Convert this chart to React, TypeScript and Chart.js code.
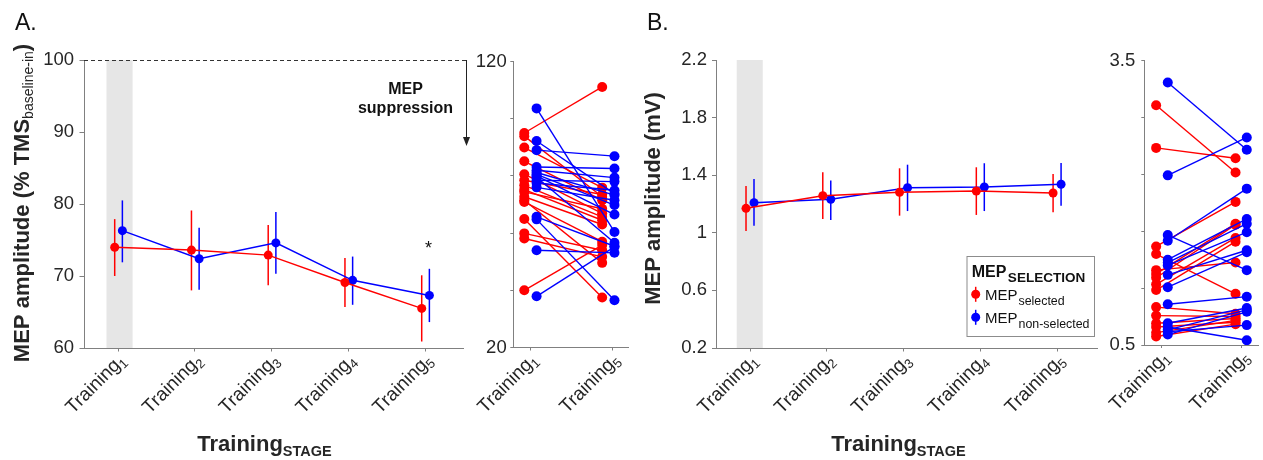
import React, { useEffect, useRef } from 'react';
import { Chart, registerables } from 'chart.js';
Chart.register(...registerables);

const W = 1263;
const H = 460;
const FONT = "'Liberation Sans', Arial, Helvetica, sans-serif";
const RED = '#ff0000';
const BLUE = '#0000ff';
const AXIS = '#808080';
const TXT = '#262626';

// ---------- shared categories ----------
const STAGES = [1, 2, 3, 4, 5];
const STAGE_SUBS = ['1', '2', '3', '4', '5'];
const PAIR_TICKS = [0, 1];
const PAIR_SUBS = ['1', '5'];

// ---------- Panel A : MEP amplitude (% TMS baseline-in) ----------
const A_Y_TICKS = [60, 70, 80, 90, 100];
const A_Y_LABELS = ['60', '70', '80', '90', '100'];
const A_RED_MEAN = [74.0, 73.6, 72.9, 69.1, 65.5];
const A_RED_LO = [70.0, 68.0, 68.7, 65.7, 60.9];
const A_RED_HI = [77.9, 79.1, 77.1, 72.5, 70.1];
const A_BLUE_MEAN = [76.3, 72.4, 74.6, 69.4, 67.3];
const A_BLUE_LO = [71.9, 68.1, 70.3, 66.0, 63.6];
const A_BLUE_HI = [80.5, 76.7, 78.9, 72.7, 71.0];
const A_REF_LEVEL = 100;
const A_ASTERISK_LEVEL = 73.0;

// Panel A individual subjects (Training1 -> Training5)
const A_SP_Y_TICKS = [20, 40, 60, 80, 100, 120];
const A_SP_Y_LABELS = ['20', '', '', '', '', '120'];
const A_SP_RED_T1 = [95.0, 93.9, 89.9, 85.1, 80.6, 78.5, 76.7, 75.2, 74.4, 72.7, 71.5, 70.9, 64.9, 59.9, 58.1, 40.0];
const A_SP_RED_T5 = [111.1, 72.7, 75.9, 71.5, 66.9, 73.5, 65.7, 64.5, 68.5, 63.0, 49.6, 57.0, 37.5, 54.0, 51.7, 55.8];
const A_SP_BLUE_T1 = [103.6, 92.2, 89.0, 83.1, 82.0, 81.2, 80.5, 80.0, 79.5, 78.5, 77.5, 76.0, 65.7, 64.8, 54.0, 37.9];
const A_SP_BLUE_T5 = [60.4, 73.8, 86.9, 82.6, 79.4, 73.3, 69.8, 66.5, 56.6, 78.0, 75.0, 71.5, 55.4, 36.5, 53.1, 55.2];

// ---------- Panel B : MEP amplitude (mV) ----------
const B_Y_TICKS = [0.2, 0.6, 1, 1.4, 1.8, 2.2];
const B_Y_LABELS = ['0.2', '0.6', '1', '1.4', '1.8', '2.2'];
const B_RED_MEAN = [1.170, 1.258, 1.281, 1.290, 1.276];
const B_RED_LO = [1.013, 1.096, 1.119, 1.124, 1.142];
const B_RED_HI = [1.325, 1.420, 1.448, 1.455, 1.408];
const B_BLUE_MEAN = [1.209, 1.233, 1.313, 1.318, 1.337];
const B_BLUE_LO = [1.049, 1.089, 1.151, 1.151, 1.188];
const B_BLUE_HI = [1.374, 1.364, 1.473, 1.483, 1.485];

const B_SP_Y_TICKS = [0.5, 1.1, 1.7, 2.3, 2.9, 3.5];
const B_SP_Y_LABELS = ['0.5', '', '', '', '', '3.5'];
const B_SP_RED_T1 = [3.03, 2.58, 1.54, 1.46, 1.29, 1.25, 1.21, 1.14, 1.08, 0.90, 0.81, 0.73, 0.69, 0.63, 0.59];
const B_SP_RED_T5 = [2.32, 2.47, 2.01, 1.04, 1.37, 1.78, 1.77, 1.63, 1.59, 0.83, 0.80, 0.78, 0.74, 0.76, 0.72];
const B_SP_BLUE_T1 = [3.27, 2.29, 1.66, 1.60, 1.40, 1.37, 1.34, 1.24, 1.11, 0.93, 0.73, 0.69, 0.66, 0.64, 0.61];
const B_SP_BLUE_T5 = [2.56, 2.69, 1.29, 2.15, 1.83, 1.78, 1.69, 1.50, 1.48, 1.01, 0.89, 0.55, 0.87, 0.71, 0.85];

// ---------- text helpers ----------
type Part = { t: string; size: number; bold?: boolean; dy?: number; dx?: number };
const fontOf = (p: Part) => `${p.bold ? 'bold ' : ''}${p.size}px ${FONT}`;
function drawRich(ctx: CanvasRenderingContext2D, parts: Part[], x: number, y: number, align: 'left' | 'center' | 'right', color: string) {
  let w = 0;
  for (const p of parts) {
    ctx.font = fontOf(p);
    w += ctx.measureText(p.t).width + (p.dx || 0);
  }
  let cx = align === 'left' ? x : align === 'center' ? x - w / 2 : x - w;
  ctx.fillStyle = color;
  ctx.textAlign = 'left';
  ctx.textBaseline = 'alphabetic';
  for (const p of parts) {
    ctx.font = fontOf(p);
    cx += p.dx || 0;
    ctx.fillText(p.t, cx, y + (p.dy || 0));
    cx += ctx.measureText(p.t).width;
  }
}

function drawXLabels(chart: any, ticks: number[], subs: string[]) {
  const ctx: CanvasRenderingContext2D = chart.ctx;
  const xs = chart.scales.x;
  const bottom = chart.chartArea.bottom;
  ticks.forEach((v, i) => {
    const px = xs.getPixelForValue(v);
    ctx.save();
    ctx.translate(px + 4, bottom + 9);
    ctx.rotate(-Math.PI / 4);
    drawRich(ctx, [{ t: 'Training', size: 19 }, { t: subs[i], size: 13, dy: 4 }], 0, 6, 'right', TXT);
    ctx.restore();
  });
}

// ---------- dataset builders ----------
function meanSeries(means: number[], offset: number, color: string) {
  return {
    data: means.map((v, i) => ({ x: STAGES[i] + offset, y: v })),
    showLine: true,
    borderColor: color,
    borderWidth: 1.5,
    pointRadius: 4.5,
    pointBackgroundColor: color,
    pointBorderWidth: 0,
  };
}
function errorBars(lo: number[], hi: number[], offset: number, color: string) {
  return lo.map((l, i) => ({
    data: [{ x: STAGES[i] + offset, y: l }, { x: STAGES[i] + offset, y: hi[i] }],
    showLine: true,
    borderColor: color,
    borderWidth: 1.5,
    pointRadius: 0,
  }));
}
function pairs(t1: number[], t5: number[], x1: number, x5: number, color: string) {
  return t1.map((v, i) => ({
    data: [{ x: x1, y: v }, { x: x5, y: t5[i] }],
    showLine: true,
    borderColor: color,
    borderWidth: 1.4,
    pointRadius: 5,
    pointBackgroundColor: color,
    pointBorderWidth: 0,
  }));
}

type Panel = {
  area: { l: number; r: number; t: number; b: number };
  xMin: number; xMax: number; xTicks: number[]; xSubs: string[];
  yMin: number; yMax: number; yTicks: number[]; yLabels: string[];
  yTickLen: number; yPad: number; xTickLen: number;
  datasets: any[];
  band?: [number, number];
  extra?: (chart: any) => void;
};

const YW = 40;
const XH = 10;

function makeChart(canvas: HTMLCanvasElement, p: Panel) {
  const a = p.area;
  return new Chart(canvas, {
    type: 'scatter',
    data: { datasets: p.datasets },
    options: {
      animation: false,
      responsive: false,
      events: [],
      layout: { padding: { left: a.l - YW, right: W - a.r, top: a.t, bottom: H - a.b - XH } },
      plugins: { legend: { display: false }, tooltip: { enabled: false } },
      scales: {
        x: {
          type: 'linear',
          min: p.xMin,
          max: p.xMax,
          afterFit: (s: any) => { s.height = XH; },
          afterBuildTicks: (s: any) => { s.ticks = p.xTicks.map((v) => ({ value: v })); },
          ticks: { display: false },
          grid: { drawOnChartArea: false, drawTicks: true, tickLength: p.xTickLen, color: AXIS, lineWidth: 1 },
          border: { display: true, color: AXIS, width: 1 },
        },
        y: {
          type: 'linear',
          min: p.yMin,
          max: p.yMax,
          afterFit: (s: any) => { s.width = YW; },
          afterBuildTicks: (s: any) => { s.ticks = p.yTicks.map((v) => ({ value: v })); },
          ticks: {
            autoSkip: false,
            padding: p.yPad,
            color: TXT,
            font: { family: FONT, size: 18.5 },
            callback: (_v: any, i: number) => p.yLabels[i],
          },
          grid: { drawOnChartArea: false, drawTicks: true, tickLength: p.yTickLen, color: AXIS, lineWidth: 1 },
          border: { display: true, color: AXIS, width: 1 },
        },
      },
    } as any,
    plugins: [
      {
        id: 'custom',
        beforeDatasetsDraw(chart: any) {
          if (!p.band) return;
          const { ctx, chartArea: ca, scales } = chart;
          const x0 = scales.x.getPixelForValue(p.band[0]);
          const x1 = scales.x.getPixelForValue(p.band[1]);
          ctx.save();
          ctx.fillStyle = '#e6e6e6';
          ctx.fillRect(x0, ca.top, x1 - x0, ca.bottom - ca.top);
          ctx.restore();
        },
        afterDraw(chart: any) {
          drawXLabels(chart, p.xTicks, p.xSubs);
          if (p.extra) p.extra(chart);
        },
      },
    ],
  });
}

// ---------- panels ----------
function panelAMain(): Panel {
  return {
    area: { l: 84, r: 463, t: 60, b: 348 },
    xMin: 0.557, xMax: 5.495, xTicks: STAGES, xSubs: STAGE_SUBS,
    yMin: 60, yMax: 100, yTicks: A_Y_TICKS, yLabels: A_Y_LABELS,
    yTickLen: 4.5, yPad: 5.5, xTickLen: 3.5,
    band: [0.85, 1.19],
    datasets: [
      meanSeries(A_RED_MEAN, -0.043, RED),
      meanSeries(A_BLUE_MEAN, 0.057, BLUE),
      ...errorBars(A_RED_LO, A_RED_HI, -0.043, RED),
      ...errorBars(A_BLUE_LO, A_BLUE_HI, 0.057, BLUE),
    ],
    extra: (chart: any) => {
      const { ctx, chartArea: ca, scales } = chart;
      const yRef = scales.y.getPixelForValue(A_REF_LEVEL);
      ctx.save();
      ctx.strokeStyle = '#333';
      ctx.lineWidth = 1;
      ctx.setLineDash([4, 3]);
      ctx.beginPath();
      ctx.moveTo(ca.left, yRef + 0.5);
      ctx.lineTo(ca.right + 4, yRef + 0.5);
      ctx.stroke();
      ctx.restore();
      const ax = ca.right + 3.5;
      ctx.save();
      ctx.strokeStyle = '#222';
      ctx.fillStyle = '#222';
      ctx.lineWidth = 1;
      ctx.beginPath();
      ctx.moveTo(ax, yRef);
      ctx.lineTo(ax, yRef + 78);
      ctx.stroke();
      ctx.beginPath();
      ctx.moveTo(ax - 3.5, yRef + 77);
      ctx.lineTo(ax + 3.5, yRef + 77);
      ctx.lineTo(ax, yRef + 86);
      ctx.closePath();
      ctx.fill();
      ctx.restore();
      drawRich(ctx, [{ t: 'MEP', size: 16, bold: true }], ca.right - 57.5, yRef + 34, 'center', '#111');
      drawRich(ctx, [{ t: 'suppression', size: 16, bold: true }], ca.right - 57.5, yRef + 53, 'center', '#111');
      drawRich(ctx, [{ t: '*', size: 18 }], scales.x.getPixelForValue(5.045), scales.y.getPixelForValue(A_ASTERISK_LEVEL), 'center', '#111');
      ctx.save();
      ctx.translate(29.3, 203);
      ctx.rotate(-Math.PI / 2);
      drawRich(ctx, [
        { t: 'MEP amplitude (% TMS', size: 22, bold: true },
        { t: 'baseline-in', size: 14, dy: 4 },
        { t: ')', size: 22, bold: true },
      ], 0, 0, 'center', TXT);
      ctx.restore();
      drawRich(ctx, [{ t: 'Training', size: 22, bold: true }, { t: 'STAGE', size: 14.5, bold: true, dy: 4.5 }], (ca.left + ca.right) / 2 - 9, 451, 'center', TXT);
      drawRich(ctx, [{ t: 'A.', size: 23 }], 15, 30, 'left', '#111');
    },
  };
}

function panelASpag(): Panel {
  return {
    area: { l: 513.3, r: 628, t: 61.5, b: 347.5 },
    xMin: -0.204, xMax: 1.195, xTicks: PAIR_TICKS, xSubs: PAIR_SUBS,
    yMin: 20, yMax: 120, yTicks: A_SP_Y_TICKS, yLabels: A_SP_Y_LABELS,
    yTickLen: 3, yPad: 3.6, xTickLen: 3,
    datasets: [
      ...pairs(A_SP_BLUE_T1, A_SP_BLUE_T5, 0.08, 1.03, BLUE),
      ...pairs(A_SP_RED_T1, A_SP_RED_T5, -0.07, 0.88, RED),
    ],
  };
}

function panelBMain(): Panel {
  return {
    area: { l: 716, r: 1097, t: 60, b: 348 },
    xMin: 0.557, xMax: 5.52, xTicks: STAGES, xSubs: STAGE_SUBS,
    yMin: 0.2, yMax: 2.2, yTicks: B_Y_TICKS, yLabels: B_Y_LABELS,
    yTickLen: 4, yPad: 5, xTickLen: 3.5,
    band: [0.827, 1.166],
    datasets: [
      meanSeries(B_RED_MEAN, -0.052, RED),
      meanSeries(B_BLUE_MEAN, 0.052, BLUE),
      ...errorBars(B_RED_LO, B_RED_HI, -0.052, RED),
      ...errorBars(B_BLUE_LO, B_BLUE_HI, 0.052, BLUE),
    ],
    extra: (chart: any) => {
      const { ctx, chartArea: ca } = chart;
      ctx.save();
      ctx.translate(659.5, 198.5);
      ctx.rotate(-Math.PI / 2);
      drawRich(ctx, [{ t: 'MEP amplitude (mV)', size: 22, bold: true }], 0, 0, 'center', TXT);
      ctx.restore();
      drawRich(ctx, [{ t: 'Training', size: 22, bold: true }, { t: 'STAGE', size: 14.5, bold: true, dy: 4.5 }], (ca.left + ca.right) / 2 - 8, 451, 'center', TXT);
      drawRich(ctx, [{ t: 'B.', size: 23 }], 647, 30, 'left', '#111');
      // legend
      const lx = ca.right - 130.5;
      const ly = ca.bottom - 92;
      ctx.save();
      ctx.fillStyle = '#fff';
      ctx.fillRect(lx, ly, 127.5, 80);
      ctx.strokeStyle = '#8c8c8c';
      ctx.lineWidth = 1;
      ctx.strokeRect(lx + 0.5, ly + 0.5, 127.5, 80);
      ctx.restore();
      drawRich(ctx, [{ t: 'MEP', size: 16, bold: true }, { t: 'SELECTION', size: 13.5, bold: true, dy: 5, dx: 1.5 }], lx + 5.2, ly + 20.7, 'left', '#111');
      const items: [string, string, number][] = [[RED, 'selected', 38.3], [BLUE, 'non-selected', 61.3]];
      for (const [col, sub, yy] of items) {
        const mx = lx + 9.2;
        const my = ly + yy;
        ctx.save();
        ctx.strokeStyle = col;
        ctx.fillStyle = col;
        ctx.lineWidth = 1.5;
        ctx.beginPath();
        ctx.moveTo(mx, my - 7.5);
        ctx.lineTo(mx, my + 7.5);
        ctx.stroke();
        ctx.beginPath();
        ctx.arc(mx, my, 4.5, 0, Math.PI * 2);
        ctx.fill();
        ctx.restore();
        drawRich(ctx, [{ t: 'MEP', size: 15 }, { t: sub, size: 12.4, dy: 5, dx: 1 }], lx + 18.5, my + 5.8, 'left', '#111');
      }
    },
  };
}

function panelBSpag(): Panel {
  return {
    area: { l: 1144.3, r: 1258, t: 60.7, b: 345 },
    xMin: -0.2175, xMax: 1.2, xTicks: PAIR_TICKS, xSubs: PAIR_SUBS,
    yMin: 0.5, yMax: 3.5, yTicks: B_SP_Y_TICKS, yLabels: B_SP_Y_LABELS,
    yTickLen: 3, yPad: 6, xTickLen: 3,
    datasets: [
      ...pairs(B_SP_BLUE_T1, B_SP_BLUE_T5, 0.075, 1.06, BLUE),
      ...pairs(B_SP_RED_T1, B_SP_RED_T5, -0.07, 0.92, RED),
    ],
  };
}

export default function App() {
  const r1 = useRef<HTMLCanvasElement>(null);
  const r2 = useRef<HTMLCanvasElement>(null);
  const r3 = useRef<HTMLCanvasElement>(null);
  const r4 = useRef<HTMLCanvasElement>(null);
  useEffect(() => {
    Chart.defaults.font.family = FONT;
    const charts = [
      makeChart(r1.current!, panelAMain()),
      makeChart(r2.current!, panelASpag()),
      makeChart(r3.current!, panelBMain()),
      makeChart(r4.current!, panelBSpag()),
    ];
    return () => charts.forEach((c) => c.destroy());
  }, []);
  const cs: React.CSSProperties = { position: 'absolute', left: 0, top: 0, width: W, height: H };
  return (
    <div style={{ position: 'absolute', left: 0, top: 0, width: W, height: H, background: '#fff', overflow: 'hidden' }}>
      <canvas ref={r1} width={W} height={H} style={cs} />
      <canvas ref={r2} width={W} height={H} style={cs} />
      <canvas ref={r3} width={W} height={H} style={cs} />
      <canvas ref={r4} width={W} height={H} style={cs} />
    </div>
  );
}
